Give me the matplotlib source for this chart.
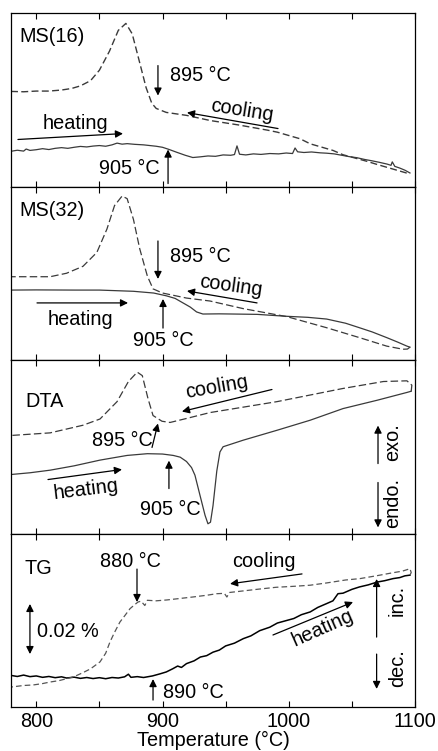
import matplotlib
matplotlib.use("Agg")
import matplotlib.pyplot as plt
from matplotlib.ticker import MultipleLocator, NullFormatter

plt.rcParams['font.family'] = ['Liberation Sans', 'DejaVu Sans']

# --- Data (temperature in deg C, signal in arbitrary units 0-100) ---
ms16_heat_t = [780, 785, 790, 792, 795, 800, 805, 810, 815, 820, 825, 830, 835, 840, 845, 850,
               855, 860, 864, 868, 872, 878, 885, 890, 895, 900, 905, 911, 918, 924, 930, 936,
               942, 948, 954, 957, 959, 961, 966, 972, 978, 985, 992, 998, 1003, 1005, 1007,
               1012, 1018, 1025, 1030, 1036, 1042, 1048, 1054, 1060, 1066, 1072, 1078, 1081,
               1082, 1084, 1088, 1092, 1096]
ms16_heat_y = [20.3, 20.9, 20.4, 21.6, 20.8, 21.2, 21.8, 21.3, 22.0, 22.4, 22.0, 22.6, 23.1, 22.8,
               23.3, 23.6, 23.2, 24.0, 25.0, 24.4, 24.7, 24.3, 24.0, 23.6, 23.2, 22.6, 21.4, 19.8,
               18.0, 16.7, 17.1, 17.6, 17.4, 18.2, 18.0, 18.4, 23.4, 18.6, 18.2, 18.8, 18.5, 19.0,
               18.8, 19.3, 19.0, 22.2, 20.0, 19.6, 19.9, 19.4, 19.2, 18.8, 18.0, 17.2, 16.6, 15.6,
               14.8, 13.9, 12.9, 12.2, 14.2, 11.6, 10.6, 9.4, 7.8]
ms16_cool_t = [780, 790, 800, 810, 820, 828, 835, 843, 850, 858, 865, 871, 876, 881, 887, 891.5,
               895, 903, 919, 938, 960, 983, 991, 1009, 1017, 1035, 1043, 1062, 1070, 1096]
ms16_cool_y = [54.8, 54.6, 55.0, 55.0, 55.6, 56.5, 58.0, 61.0, 67.0, 78.0, 90.0, 94.0, 88.0, 74.0,
               57.0, 48.0, 45.0, 42.7, 41.0, 38.0, 35.5, 32.5, 31.3, 27.5, 24.6, 20.8, 18.3, 14.5,
               12.7, 7.2]

ms32_heat_t = [780, 800, 830, 850, 877, 893, 903, 910, 916, 922, 927, 932, 945, 956, 975, 998,
               1015, 1030, 1045, 1056, 1066, 1077.6, 1086, 1093.6, 1096]
ms32_heat_y = [40.3, 40.4, 40.3, 40.3, 39.6, 38.6, 37.0, 35.5, 33.0, 30.5, 27.7, 26.5, 26.6, 26.5,
               26.3, 25.2, 24.6, 23.6, 21.2, 18.6, 16.2, 12.9, 10.4, 8.0, 7.4]
ms32_cool_t = [1096, 1094, 1090.5, 1077.6, 1056, 1030, 998.5, 964, 937.6, 919, 900, 892.5, 888,
               882, 877, 872, 868, 862, 856, 848, 837, 824, 811, 780]
ms32_cool_y = [7.4, 6.3, 6.2, 8.0, 12.9, 18.6, 25.0, 29.6, 34.0, 35.7, 38.6, 41.0, 48.4, 64.0,
               81.0, 93.0, 94.5, 89.0, 75.5, 62.0, 54.0, 50.0, 48.0, 48.0]

dta_heat_t = [780, 795, 811, 830, 850.5, 872, 888, 900, 908.5, 914, 919, 923, 925.7, 929.7,
              933.7, 936, 938, 940, 943, 945.5, 948, 964, 990.7, 1017, 1043, 1070, 1093.6, 1097]
dta_heat_y = [34.0, 35.0, 36.5, 39.0, 42.3, 45.0, 46.0, 45.8, 45.0, 44.0, 41.5, 38.0, 33.6, 22.0,
              10.5, 5.6, 6.5, 16.0, 36.0, 47.0, 50.0, 53.8, 59.5, 65.3, 72.0, 76.8, 81.3, 82.0]
dta_cool_t = [1097, 1097.5, 1093.6, 1075, 1043, 990.7, 937.6, 919, 906, 899.6, 892.5, 888.5, 884,
              880, 873, 864, 850.5, 837, 811, 780]
dta_cool_y = [82.0, 85.5, 88.0, 87.6, 83.6, 76.0, 69.7, 66.3, 64.0, 64.7, 68.0, 77.8, 91.0, 93.0,
              87.6, 76.0, 66.0, 62.4, 58.0, 56.5]

tg_heat_t = [780, 785, 790, 795, 800, 805, 810, 815, 820, 824, 830, 835, 840, 845, 850, 855, 860,
             865, 870, 873, 875, 880, 885, 892, 898, 903, 908, 912, 915, 919, 925, 930, 935, 940,
             945, 950, 957, 964, 970, 977, 985, 991, 997, 1004, 1010, 1017, 1023, 1030, 1035,
             1039, 1043, 1050, 1056, 1063, 1070, 1076, 1082.6, 1088, 1092, 1096]
tg_heat_y = [18.2, 17.6, 18.4, 17.5, 17.9, 17.1, 17.6, 16.9, 17.4, 16.7, 17.2, 16.5, 17.0, 16.4,
             16.9, 16.3, 17.0, 16.7, 17.4, 18.9, 17.1, 17.5, 17.0, 17.9, 19.1, 20.2, 22.0, 23.6,
             22.8, 25.0, 26.6, 28.8, 29.6, 31.6, 32.8, 35.2, 36.8, 39.4, 41.0, 44.0, 46.0, 48.4,
             49.6, 51.0, 53.2, 54.8, 57.4, 59.6, 61.2, 65.3, 65.6, 67.8, 69.2, 70.4, 72.0, 72.8,
             74.0, 74.6, 75.6, 76.0]
tg_cool_t = [1096, 1097, 1096, 1090, 1082.6, 1070, 1056.4, 1045, 1030, 1017, 1005, 990, 977, 965,
             953, 951, 949, 943, 935, 924, 912, 903.5, 895, 888, 886, 883, 880.6, 878, 874.3,
             870, 866.3, 862, 858.4, 855, 850.5, 843, 837, 830, 824, 818, 811, 805, 797.6, 790,
             780]
tg_cool_y = [76.0, 77.5, 79.7, 78.3, 77.4, 75.7, 74.0, 73.2, 71.5, 70.2, 69.6, 69.0, 68.0, 67.0,
             66.0, 63.4, 65.5, 65.3, 64.4, 63.4, 62.4, 61.7, 61.2, 61.5, 58.5, 61.0, 60.5, 59.0,
             56.7, 52.5, 49.0, 43.0, 37.5, 31.0, 26.0, 22.0, 19.8, 17.5, 16.3, 15.2, 14.4, 13.5,
             12.7, 12.4, 11.5]

X_TICK_LABELS = [800, 900, 1000, 1100]

FS = 14.3
GRAY = '#3a3a3a'
ARROW = dict(arrowstyle='-|>', color='k', lw=0.9, mutation_scale=11,
             shrinkA=0, shrinkB=0)
DBL_ARROW = dict(arrowstyle='<|-|>', color='k', lw=0.9, mutation_scale=11,
                 shrinkA=0, shrinkB=0)


def arrow(ax, start, end, style=ARROW):
    ax.annotate('', xy=end, xytext=start, arrowprops=style)


fig, axes = plt.subplots(4, 1, figsize=(4.38, 7.51), dpi=100, sharex=True)
fig.subplots_adjust(left=11 / 438, right=415 / 438, top=1 - 13 / 751,
                    bottom=1 - 707 / 751, hspace=0)

dash = (6.0, 2.6)
ax1, ax2, ax3, ax4 = axes

ax1.plot(ms16_heat_t, ms16_heat_y, '-', color=GRAY, lw=0.9)
ax1.plot(ms16_cool_t, ms16_cool_y, '--', color=GRAY, lw=1.0, dashes=(5.0, 2.4))
ax2.plot(ms32_heat_t, ms32_heat_y, '-', color=GRAY, lw=0.9)
ax2.plot(ms32_cool_t, ms32_cool_y, '--', color=GRAY, lw=0.9, dashes=dash)
ax3.plot(dta_heat_t, dta_heat_y, '-', color=GRAY, lw=0.9)
ax3.plot(dta_cool_t, dta_cool_y, '--', color=GRAY, lw=0.9, dashes=dash)
ax4.plot(tg_heat_t, tg_heat_y, '-', color='k', lw=1.1)
ax4.plot(tg_cool_t, tg_cool_y, '--', color='#555555', lw=0.9, dashes=(4.5, 2.5))

for ax in axes:
    ax.set_xlim(780, 1100)
    ax.set_ylim(0, 100)
    ax.set_yticks([])
    ax.xaxis.set_major_locator(MultipleLocator(100))
    ax.xaxis.set_minor_locator(MultipleLocator(50))
    ax.xaxis.set_minor_formatter(NullFormatter())
    ax.tick_params(axis='x', which='both', direction='in', top=True, length=4,
                   width=0.8, labelsize=FS, pad=3.5)
    for sp in ax.spines.values():
        sp.set_linewidth(0.9)

ax4.set_xticks(X_TICK_LABELS)
ax4.set_xticklabels([str(v) for v in X_TICK_LABELS])
ax4.set_xlabel('Temperature (\u00b0C)', fontsize=FS, labelpad=0)

# --- MS(16) ---
ax1.text(787, 86.5, 'MS(16)', fontsize=FS, ha='left', va='center')
arrow(ax1, (896.4, 69.7), (896.4, 52.4))
ax1.text(906, 64, '895 \u00b0C', fontsize=FS, ha='left', va='center')
ax1.text(963, 43.5, 'cooling', fontsize=FS, ha='center', va='center', rotation=-9)
arrow(ax1, (991.5, 33.4), (919.4, 42.6))
ax1.text(830.7, 36.3, 'heating', fontsize=FS, ha='center', va='center')
arrow(ax1, (785.5, 27.1), (868.7, 30.5))
arrow(ax1, (904.4, 1.7), (904.4, 21.3))
ax1.text(898, 10.4, '905 \u00b0C', fontsize=FS, ha='right', va='center')

# --- MS(32) ---
ax2.text(787, 85.9, 'MS(32)', fontsize=FS, ha='left', va='center')
arrow(ax2, (896.4, 68.6), (896.4, 46.7))
ax2.text(906, 59.9, '895 \u00b0C', fontsize=FS, ha='left', va='center')
ax2.text(954.3, 42.5, 'cooling', fontsize=FS, ha='center', va='center', rotation=-8)
arrow(ax2, (974.9, 32.9), (919.4, 39.8))
ax2.text(834.7, 23.6, 'heating', fontsize=FS, ha='center', va='center')
arrow(ax2, (800.6, 32.9), (872.7, 32.9))
arrow(ax2, (900.4, 18.4), (900.4, 35.2))
ax2.text(900.4, 11, '905 \u00b0C', fontsize=FS, ha='center', va='center')

# --- DTA ---
ax3.text(791, 76, 'DTA', fontsize=FS, ha='left', va='center')
ax3.text(943.2, 84.5, 'cooling', fontsize=FS, ha='center', va='center', rotation=10)
arrow(ax3, (986.7, 83), (915.4, 70.3))
ax3.text(868, 53.6, '895 \u00b0C', fontsize=FS, ha='center', va='center')
arrow(ax3, (891.7, 49.6), (896.4, 63.4))
ax3.text(839.4, 25.5, 'heating', fontsize=FS, ha='center', va='center', rotation=7)
arrow(ax3, (809.3, 31.1), (867.9, 36.9))
arrow(ax3, (905.1, 25.9), (905.1, 42))
ax3.text(906, 13.8, '905 \u00b0C', fontsize=FS, ha='center', va='center')
ax3.text(1082, 52.4, 'exo.', fontsize=FS, ha='center', va='center', rotation=90)
arrow(ax3, (1070.7, 40.3), (1070.7, 62.2))
ax3.text(1082, 17.3, 'endo.', fontsize=FS, ha='center', va='center', rotation=90)
arrow(ax3, (1070.7, 29.4), (1070.7, 3.5))

# --- TG ---
ax4.text(791, 80.1, 'TG', fontsize=FS, ha='left', va='center')
ax4.text(874.3, 83.6, '880 \u00b0C', fontsize=FS, ha='center', va='center')
arrow(ax4, (879.8, 79.5), (879.8, 60.5))
ax4.text(980.4, 83.6, 'cooling', fontsize=FS, ha='center', va='center')
arrow(ax4, (1010.5, 76.7), (953.5, 71))
arrow(ax4, (795, 59.4), (795, 30.5), DBL_ARROW)
ax4.text(800.6, 43.8, '0.02 %', fontsize=FS, ha='left', va='center')
ax4.text(1027, 45.5, 'heating', fontsize=FS, ha='center', va='center', rotation=24)
arrow(ax4, (987.5, 41.5), (1050.9, 60.5))
arrow(ax4, (892.5, 4), (892.5, 16.1))
ax4.text(900.4, 8.6, '890 \u00b0C', fontsize=FS, ha='left', va='center')
ax4.text(1086, 61.7, 'inc.', fontsize=FS, ha='center', va='center', rotation=90)
arrow(ax4, (1069.6, 40.3), (1069.6, 73.8))
ax4.text(1086, 22.5, 'dec.', fontsize=FS, ha='center', va='center', rotation=90)
arrow(ax4, (1069.6, 30.5), (1069.6, 10.4))

fig.savefig('out.png', dpi=100)
